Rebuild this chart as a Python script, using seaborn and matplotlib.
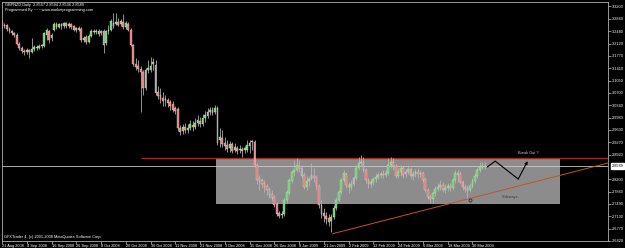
import numpy as np
import pandas as pd
import matplotlib
matplotlib.use("Agg")
import matplotlib.pyplot as plt
from matplotlib.patches import Rectangle
import seaborn as sns

# ---------------- data ----------------
date_labels = ["21 Aug 2008", "4 Sep 2008", "16 Sep 2008", "26 Sep 2008", "8 Oct 2008",
               "20 Oct 2008", "30 Oct 2008", "11 Nov 2008", "21 Nov 2008", "3 Dec 2008",
               "15 Dec 2008", "26 Dec 2008", "9 Jan 2009", "21 Jan 2009", "2 Feb 2009",
               "12 Feb 2009", "24 Feb 2009", "6 Mar 2009", "18 Mar 2009", "30 Mar 2009"]
label_every = 10

price_ticks = [3.3200, 3.2840, 3.2480, 3.2120, 3.1770, 3.1410, 3.1050, 3.0700, 3.0340,
               2.9980, 2.9630, 2.9270, 2.8920, 2.8200, 2.7840, 2.7490, 2.7130, 2.6770, 2.6420]
current_price = 2.8589

opens = [
    3.275, 3.263, 3.266, 3.255, 3.249, 3.243, 3.237, 3.211, 3.200, 3.191,
    3.188, 3.194, 3.188, 3.197, 3.203, 3.200, 3.206, 3.206, 3.237, 3.249,
    3.229, 3.252, 3.269, 3.261, 3.269, 3.263, 3.272, 3.263, 3.269, 3.263,
    3.252, 3.258, 3.255, 3.223, 3.232, 3.217, 3.235, 3.249, 3.246, 3.240,
    3.249, 3.249, 3.214, 3.249, 3.252, 3.272, 3.269, 3.275, 3.269, 3.275,
    3.261, 3.269, 3.252, 3.209, 3.154, 3.148, 3.139, 3.131, 3.084, 3.136,
    3.136, 3.154, 3.151, 3.073, 3.064, 3.055, 3.052, 3.050, 3.044, 3.038,
    3.026, 3.024, 2.969, 2.960, 2.972, 2.963, 2.969, 2.977, 2.972, 2.983,
    2.989, 2.980, 2.998, 3.003, 3.015, 3.021, 3.015, 3.026, 2.934, 2.940,
    2.925, 2.919, 2.911, 2.922, 2.905, 2.911, 2.905, 2.908, 2.905, 2.905,
    2.917, 2.928, 2.928, 2.862, 2.824, 2.818, 2.810, 2.801, 2.792, 2.778,
    2.769, 2.749, 2.723, 2.717, 2.720, 2.761, 2.781, 2.816, 2.842, 2.847,
    2.859, 2.853, 2.833, 2.798, 2.816, 2.821, 2.830, 2.827, 2.801, 2.746,
    2.723, 2.714, 2.709, 2.700, 2.711, 2.737, 2.761, 2.784, 2.818, 2.836,
    2.804, 2.798, 2.807, 2.824, 2.853, 2.868, 2.870, 2.847, 2.818, 2.807,
    2.813, 2.821, 2.827, 2.833, 2.836, 2.833, 2.839, 2.862, 2.870, 2.859,
    2.830, 2.842, 2.853, 2.836, 2.842, 2.850, 2.830, 2.836, 2.842, 2.836,
    2.839, 2.821, 2.790, 2.769, 2.764, 2.781, 2.792, 2.798, 2.804, 2.790,
    2.795, 2.801, 2.795, 2.818, 2.839, 2.836, 2.813, 2.798, 2.795, 2.790,
    2.801, 2.816, 2.830, 2.847, 2.856, 2.856]
highs = [
    3.281, 3.272, 3.269, 3.261, 3.252, 3.246, 3.243, 3.217, 3.206, 3.197,
    3.200, 3.197, 3.229, 3.209, 3.209, 3.211, 3.211, 3.246, 3.258, 3.252,
    3.243, 3.275, 3.275, 3.272, 3.272, 3.275, 3.275, 3.275, 3.272, 3.266,
    3.261, 3.263, 3.261, 3.235, 3.237, 3.240, 3.255, 3.255, 3.255, 3.255,
    3.252, 3.255, 3.252, 3.266, 3.284, 3.301, 3.301, 3.287, 3.284, 3.298,
    3.278, 3.275, 3.258, 3.211, 3.171, 3.165, 3.148, 3.136, 3.142, 3.165,
    3.174, 3.171, 3.165, 3.090, 3.084, 3.073, 3.064, 3.055, 3.050, 3.047,
    3.032, 3.029, 2.977, 2.980, 2.983, 2.980, 2.992, 2.989, 2.998, 3.006,
    3.000, 3.009, 3.018, 3.026, 3.029, 3.029, 3.035, 3.032, 2.969, 2.963,
    2.943, 2.934, 2.931, 2.928, 2.925, 2.917, 2.919, 2.914, 2.917, 2.934,
    2.934, 2.934, 2.934, 2.868, 2.833, 2.824, 2.818, 2.807, 2.798, 2.790,
    2.775, 2.755, 2.729, 2.729, 2.766, 2.790, 2.824, 2.847, 2.876, 2.882,
    2.876, 2.862, 2.842, 2.830, 2.830, 2.868, 2.853, 2.833, 2.807, 2.761,
    2.737, 2.726, 2.720, 2.720, 2.746, 2.769, 2.790, 2.824, 2.847, 2.842,
    2.813, 2.818, 2.830, 2.862, 2.885, 2.891, 2.885, 2.853, 2.824, 2.821,
    2.827, 2.839, 2.842, 2.844, 2.847, 2.847, 2.882, 2.885, 2.882, 2.865,
    2.853, 2.862, 2.859, 2.850, 2.862, 2.856, 2.844, 2.850, 2.853, 2.847,
    2.844, 2.827, 2.795, 2.778, 2.787, 2.801, 2.810, 2.818, 2.813, 2.807,
    2.810, 2.810, 2.824, 2.847, 2.847, 2.844, 2.818, 2.807, 2.804, 2.810,
    2.824, 2.839, 2.856, 2.870, 2.870, 2.870]
lows = [
    3.258, 3.258, 3.249, 3.243, 3.237, 3.232, 3.209, 3.194, 3.185, 3.180,
    3.183, 3.171, 3.185, 3.191, 3.194, 3.197, 3.200, 3.203, 3.223, 3.214,
    3.220, 3.249, 3.255, 3.258, 3.255, 3.258, 3.258, 3.258, 3.255, 3.249,
    3.246, 3.249, 3.217, 3.217, 3.211, 3.214, 3.232, 3.240, 3.240, 3.235,
    3.237, 3.185, 3.209, 3.240, 3.249, 3.258, 3.266, 3.263, 3.263, 3.255,
    3.255, 3.249, 3.206, 3.148, 3.136, 3.131, 3.015, 3.064, 3.079, 3.128,
    3.131, 3.136, 3.064, 3.052, 3.041, 3.032, 3.032, 3.029, 3.021, 3.015,
    3.009, 2.960, 2.948, 2.951, 2.954, 2.954, 2.963, 2.960, 2.966, 2.974,
    2.972, 2.974, 2.986, 2.998, 3.006, 3.006, 3.009, 2.919, 2.914, 2.914,
    2.905, 2.899, 2.899, 2.896, 2.899, 2.894, 2.896, 2.885, 2.896, 2.899,
    2.896, 2.905, 2.856, 2.807, 2.790, 2.795, 2.784, 2.775, 2.766, 2.761,
    2.740, 2.714, 2.709, 2.709, 2.714, 2.752, 2.775, 2.810, 2.830, 2.842,
    2.842, 2.824, 2.792, 2.790, 2.801, 2.818, 2.813, 2.790, 2.737, 2.709,
    2.697, 2.691, 2.685, 2.668, 2.706, 2.732, 2.755, 2.778, 2.813, 2.795,
    2.781, 2.790, 2.801, 2.818, 2.847, 2.859, 2.842, 2.810, 2.795, 2.798,
    2.804, 2.813, 2.821, 2.824, 2.824, 2.827, 2.833, 2.853, 2.847, 2.824,
    2.824, 2.830, 2.824, 2.827, 2.836, 2.821, 2.818, 2.827, 2.824, 2.827,
    2.813, 2.784, 2.764, 2.752, 2.752, 2.772, 2.787, 2.790, 2.784, 2.781,
    2.787, 2.787, 2.790, 2.810, 2.813, 2.807, 2.790, 2.784, 2.761, 2.784,
    2.795, 2.810, 2.824, 2.842, 2.850, 2.850]
closes = [
    3.263, 3.266, 3.255, 3.249, 3.243, 3.237, 3.211, 3.200, 3.191, 3.188,
    3.194, 3.188, 3.197, 3.203, 3.200, 3.206, 3.209, 3.243, 3.252, 3.223,
    3.237, 3.269, 3.261, 3.269, 3.263, 3.272, 3.263, 3.269, 3.261, 3.252,
    3.258, 3.252, 3.223, 3.229, 3.217, 3.235, 3.249, 3.246, 3.249, 3.249,
    3.243, 3.209, 3.249, 3.252, 3.278, 3.263, 3.275, 3.266, 3.278, 3.261,
    3.272, 3.252, 3.209, 3.154, 3.145, 3.139, 3.131, 3.084, 3.136, 3.142,
    3.148, 3.159, 3.070, 3.061, 3.052, 3.047, 3.050, 3.041, 3.032, 3.021,
    3.018, 2.969, 2.957, 2.972, 2.963, 2.969, 2.980, 2.972, 2.983, 2.992,
    2.980, 2.998, 3.006, 3.015, 3.021, 3.012, 3.026, 2.925, 2.943, 2.922,
    2.917, 2.908, 2.922, 2.902, 2.914, 2.902, 2.908, 2.902, 2.911, 2.919,
    2.925, 2.931, 2.862, 2.818, 2.816, 2.807, 2.798, 2.790, 2.775, 2.766,
    2.746, 2.720, 2.714, 2.720, 2.761, 2.784, 2.818, 2.842, 2.847, 2.862,
    2.853, 2.830, 2.798, 2.816, 2.821, 2.833, 2.824, 2.801, 2.746, 2.720,
    2.714, 2.706, 2.697, 2.711, 2.737, 2.761, 2.784, 2.818, 2.839, 2.804,
    2.798, 2.807, 2.824, 2.853, 2.868, 2.870, 2.847, 2.818, 2.807, 2.813,
    2.821, 2.827, 2.833, 2.836, 2.833, 2.839, 2.862, 2.870, 2.859, 2.830,
    2.842, 2.853, 2.833, 2.842, 2.850, 2.830, 2.836, 2.842, 2.836, 2.839,
    2.818, 2.790, 2.769, 2.764, 2.781, 2.792, 2.798, 2.804, 2.790, 2.795,
    2.801, 2.795, 2.818, 2.839, 2.833, 2.813, 2.798, 2.792, 2.787, 2.801,
    2.816, 2.830, 2.847, 2.856, 2.859, 2.8589]

# annotations (bar index, price)
resistance_price = 2.882
resistance_start = 56
box_x = [86.3, 225.4]
box_y = [2.749, 2.882]
trend_x = [133.5, 250.0]
trend_y = [2.663, 2.877]
zig_x = [196.0, 199.2, 208.5, 212.3]
zig_y = [2.856, 2.873, 2.821, 2.873]
breakout_pos = (208.5, 2.897)
sideways_pos = (202.0, 2.769)
circle_pos = (189.0, 2.761)

assert len(opens) == len(highs) == len(lows) == len(closes)

# ---------------- plot ----------------
sns.set_theme(style="dark", rc={"axes.facecolor": "black", "figure.facecolor": "black"})
plt.rcParams['font.family'] = ['Liberation Sans', 'DejaVu Sans']
FS = 2.8

W, H = 625, 248
fig = plt.figure(figsize=(W / 100, H / 100), dpi=100, facecolor="black")
L, R, T, B = 2, 608, 2, 241
ax = fig.add_axes([L / W, (H - B) / H, (R - L) / W, (B - T) / H])
ax.set_facecolor("black")

n = len(opens)
df = pd.DataFrame({"x": np.arange(n), "o": opens, "h": highs, "l": lows, "c": closes})
df["up"] = df["c"] >= df["o"]

# gray "sideways" rectangle behind candles
ax.add_patch(Rectangle((box_x[0], box_y[0]), box_x[1] - box_x[0], box_y[1] - box_y[0],
                       facecolor="#8c8c8c", edgecolor="none", zorder=1))

# resistance line and current price line
ax.hlines(resistance_price, resistance_start, 260, color="#9a2e1c", lw=1.0, zorder=2)
ax.axhline(current_price, color="#c8c8c8", lw=0.6, zorder=2)

# candles
ax.vlines(df["x"], df["l"], df["h"], color="#b8b8b8", lw=0.55, zorder=3)
body_bottom = np.minimum(df["o"], df["c"])
body_h = np.maximum(np.abs(df["c"] - df["o"]), 0.0012)
colors = np.where(df["up"], "#5fd85f", "#ec7474")
ax.bar(df["x"], body_h, bottom=body_bottom, width=0.72, color=colors,
       edgecolor="#e0e0e0", linewidth=0.25, zorder=4)

# trend line
sns.lineplot(x=trend_x, y=trend_y, ax=ax, color="#c8502a", lw=0.7, zorder=5)

# zigzag arrow
ax.plot(zig_x[:-1], zig_y[:-1], color="black", lw=0.8, zorder=6)
ax.annotate("", xy=(zig_x[-1], zig_y[-1]), xytext=(zig_x[-2], zig_y[-2]),
            arrowprops=dict(arrowstyle="-|>", color="black", lw=0.8,
                            mutation_scale=4, shrinkA=0, shrinkB=0), zorder=6)

ax.text(*breakout_pos, "Break Out ?", color="#c8c8c8", fontsize=FS, ha="left", va="center", zorder=7)
ax.text(*sideways_pos, "Sideways", color="#3a3a3a", fontsize=FS, ha="left", va="center", zorder=7)
ax.plot(*circle_pos, marker="o", ms=2.2, mfc="none", mec="#202020", mew=0.5, zorder=7)

# axes limits
ax.set_xlim((L - 1) / 2.48, (R - 1) / 2.48)
ax.set_ylim(2.6421, 3.3328)

# y ticks on the right
ax.yaxis.tick_right()
ax.set_yticks(price_ticks)
ax.set_yticklabels([f"{t:.4f}" for t in price_ticks])
ax.tick_params(axis="y", which="both", length=2, width=0.5, color="#c0c0c0",
               labelsize=FS, labelcolor="white", pad=1, right=True, left=False)

# x ticks
xt = np.arange(len(date_labels)) * label_every
ax.set_xticks(xt)
ax.set_xticklabels(date_labels, ha="left")
ax.tick_params(axis="x", which="both", length=2, width=0.5, color="#c0c0c0",
               labelsize=FS, labelcolor="white", pad=0.5, bottom=True)

for s in ax.spines.values():
    s.set_color("#b0b0b0")
    s.set_linewidth(0.6)
ax.grid(False)

# current price box
ax.text(1.006, current_price, f"{current_price:.4f}", transform=ax.get_yaxis_transform(),
        fontsize=FS, color="black", va="center", ha="left",
        bbox=dict(boxstyle="square,pad=0.15", facecolor="white", edgecolor="white"), zorder=10,
        clip_on=False)

# header and footer text
fig.text(5 / W, 1 - 5 / H, "GBPNZD,Daily  2.8567 2.8594 2.8536 2.8589", color="white",
         fontsize=FS, va="center", ha="left")
fig.text(5 / W, 1 - 10 / H, "Programmed By ~~~ www.marketprogramming.com", color="white",
         fontsize=FS, va="center", ha="left")
fig.text(4 / W, 1 - 237 / H, "GFXTrader 4, (c) 2001-2008 MetaQuotes Software Corp.", color="white",
         fontsize=FS, va="center", ha="left")

fig.savefig("out.png", dpi=100, facecolor="black")
